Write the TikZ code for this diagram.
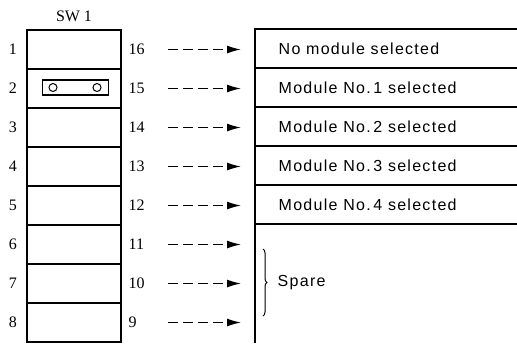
\documentclass[tikz,border=0pt]{standalone}
\usepackage{fontspec}
\setmainfont{Liberation Serif}
\newfontfamily\labfont[LetterSpace=8]{Liberation Sans}
\usetikzlibrary{arrows.meta,decorations.pathreplacing}
\begin{document}
\begin{tikzpicture}[x=1pt,y=-1pt,
  line width=1.4pt,
  swrow/.style={draw,minimum width=94pt,minimum height=39pt,inner sep=0pt},
  num/.style={font=\fontsize{16}{16}\selectfont,inner sep=0pt},
  lab/.style={font=\labfont\fontsize{16}{16}\selectfont,anchor=west,inner sep=0pt},
  darrow/.style={line width=1.3pt,dash pattern=on 10pt off 5pt,-{Latex[length=14pt,width=8pt]}}]
\useasboundingbox (0,0) rectangle (517,343);
% switch column
\foreach \i in {1,...,8} {
  \pgfmathsetmacro\yc{30+39*(\i-1)+19.5}
  \node[swrow] (sw\i) at (74,\yc) {};
  \node[num] (l\i) at (13,\yc) {\i};
  \pgfmathtruncatemacro\r{17-\i}
  \node[num,anchor=west] (r\i) at (128,\yc) {\r};
  \coordinate (a\i) at (168,\yc);
  \coordinate (b\i) at (241,\yc);
  \draw[darrow] (a\i) -- (b\i);
}
\node[num] (sw) at (74,16) {SW 1};
% jumper
\node[draw,line width=1.2pt,minimum width=66pt,minimum height=15pt,inner sep=0pt] (jmp) at (75.5,87.5) {};
\node[draw,circle,line width=1pt,minimum size=8pt,inner sep=0pt] (p1) at (53,87.5) {};
\node[draw,circle,line width=1pt,minimum size=8pt,inner sep=0pt] (p2) at (97,87.5) {};
% right table
\draw (255,343) -- (255,29) -- (517,29);
\foreach \y in {68,107,146,185,224} \draw (255,\y) -- (517,\y);
\node[lab] (t1) at (278,49) {No module selected};
\node[lab] (t2) at (278,88) {Module No.\,1 selected};
\node[lab] (t3) at (278,127) {Module No.\,2 selected};
\node[lab] (t4) at (278,166) {Module No.\,3 selected};
\node[lab] (t5) at (278,205) {Module No.\,4 selected};
\node[lab] (sp) at (277,283) {Spare};
\coordinate (br1) at (263,249);
\coordinate (br2) at (263,316);
\draw[line width=1pt,decorate,decoration={brace,amplitude=4pt}] (br1) -- (br2);
\end{tikzpicture}
\end{document}
